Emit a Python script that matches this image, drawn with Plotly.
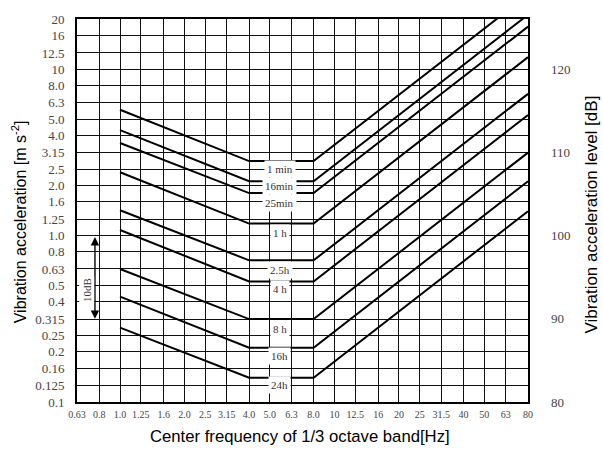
import numpy as np
import plotly.graph_objects as go

# 1/3 octave band centre frequencies (Hz) used for the grid
band_freqs = [0.63, 0.8, 1.0, 1.25, 1.6, 2.0, 2.5, 3.15, 4.0, 5.0, 6.3, 8.0,
              10, 12.5, 16, 20, 25, 31.5, 40, 50, 63, 80]
band_labels = ["0.63", "0.8", "1.0", "1.25", "1.6", "2.0", "2.5", "3.15", "4.0",
               "5.0", "6.3", "8.0", "10", "12.5", "16", "20", "25", "31.5",
               "40", "50", "63", "80"]

# Acceleration grid (m/s^2)
accel_ticks = [0.1, 0.125, 0.16, 0.2, 0.25, 0.315, 0.4, 0.5, 0.63, 0.8, 1.0,
               1.25, 1.6, 2.0, 2.5, 3.15, 4.0, 5.0, 6.3, 8.0, 10, 12.5, 16, 20]
accel_labels = ["0.1", "0.125", "0.16", "0.2", "0.25", "0.315", "0.4", "0.5",
                "0.63", "0.8", "1.0", "1.25", "1.6", "2.0", "2.5", "3.15", "4.0",
                "5.0", "6.3", "8.0", "10", "12.5", "16", "20"]

# Acceleration level (dB re 1e-5 m/s^2)
level_ticks = [80, 90, 100, 110, 120]

# Exposure-time boundaries: corner frequencies and acceleration at each corner
corner_freqs = [1.0, 4.0, 8.0, 80.0]
exposure_names = ["1 min", "16min", "25min", "1 h", "2.5h", "4 h", "8 h", "16h", "24h"]
accel_at_1hz = [5.7, 4.3, 3.6, 2.4, 1.42, 1.08, 0.63, 0.43, 0.28]
accel_flat = [2.8, 2.12, 1.8, 1.18, 0.71, 0.53, 0.315, 0.212, 0.14]
accel_at_80hz = [28.0, 21.2, 18.0, 11.8, 7.1, 5.3, 3.15, 2.12, 1.4]
label_accel = [2.5, 1.98, 1.57, 1.04, 0.62, 0.48, 0.276, 0.19, 0.127]
label_freq = 5.55

fig = go.Figure()

for name, a1, af, a80 in zip(exposure_names, accel_at_1hz, accel_flat, accel_at_80hz):
    fig.add_trace(go.Scatter(
        x=corner_freqs, y=[a1, af, af, a80], mode="lines", name=name,
        line=dict(color="black", width=2), showlegend=False, hoverinfo="skip"))

# invisible trace so the dB axis is drawn
fig.add_trace(go.Scatter(x=[1.0], y=[100], yaxis="y2", mode="markers",
                         marker=dict(opacity=0), showlegend=False, hoverinfo="skip"))

serif = "Liberation Serif, Times New Roman, serif"
sans = "Liberation Sans, Arial, sans-serif"

annotations = []
for name, ya in zip(exposure_names, label_accel):
    annotations.append(dict(
        x=np.log10(label_freq), y=np.log10(ya), xref="x", yref="y",
        text=name, showarrow=False, bgcolor="white", borderpad=2,
        font=dict(family=serif, size=11, color="#333333")))

# 10 dB span indicator (double-headed arrow from 0.316 to 1.0 m/s^2)
arrow_f = 0.764
annotations.append(dict(
    x=np.log10(arrow_f), y=np.log10(0.316), ax=np.log10(arrow_f), ay=np.log10(1.0),
    xref="x", yref="y", axref="x", ayref="y", text="", showarrow=True,
    arrowhead=2, arrowside="end+start", arrowsize=1.2, arrowwidth=1.4,
    arrowcolor="black", standoff=0, startstandoff=0))
annotations.append(dict(
    x=np.log10(0.70), y=np.log10(0.47), xref="x", yref="y", text="10dB",
    showarrow=False, textangle=-90, bgcolor="white", borderpad=1,
    font=dict(family=serif, size=11, color="#333333")))

# axis titles
annotations.append(dict(
    x=0.494, y=-0.09, xref="paper", yref="paper", xanchor="center", yanchor="middle",
    text="Center frequency of 1/3 octave band[Hz]", showarrow=False,
    font=dict(family=sans, size=16.7, color="black")))
annotations.append(dict(
    x=-0.128, y=0.47, xref="paper", yref="paper", xanchor="center", yanchor="middle",
    text="Vibration acceleration [m s<sup>-2</sup>]", showarrow=False, textangle=-90,
    font=dict(family=sans, size=16, color="black")))
annotations.append(dict(
    x=1.14, y=0.49, xref="paper", yref="paper", xanchor="center", yanchor="middle",
    text="Vibration acceleration level [dB]", showarrow=False, textangle=-90,
    font=dict(family=sans, size=17, color="black")))

fig.update_layout(
    width=603, height=450,
    margin=dict(l=77, r=75, t=12, b=48),
    paper_bgcolor="white", plot_bgcolor="white",
    showlegend=False,
    annotations=annotations,
    xaxis=dict(
        type="log", range=[np.log10(0.63), np.log10(80)],
        tickvals=band_freqs, ticktext=band_labels, ticks="",
        tickfont=dict(family=serif, size=10, color="#444444"),
        ticklabelstandoff=2,
        showgrid=True, gridcolor="#111111", gridwidth=1.4,
        showline=True, mirror=True, linecolor="black", linewidth=1.6,
        zeroline=False),
    yaxis=dict(
        type="log", range=[-1, np.log10(20)],
        tickvals=accel_ticks, ticktext=accel_labels, ticks="",
        tickfont=dict(family=serif, size=13, color="#444444"),
        ticklabelstandoff=8,
        showgrid=True, gridcolor="#111111", gridwidth=1.4,
        showline=True, mirror=True, linecolor="black", linewidth=1.6,
        zeroline=False),
    yaxis2=dict(
        overlaying="y", side="right",
        range=[80, 100 + 20 * np.log10(20)],
        tickvals=level_ticks, ticks="",
        tickfont=dict(family=serif, size=13, color="#444444"),
        ticklabelstandoff=22,
        showgrid=False, zeroline=False, showline=False),
)

fig.write_html("out.html")
